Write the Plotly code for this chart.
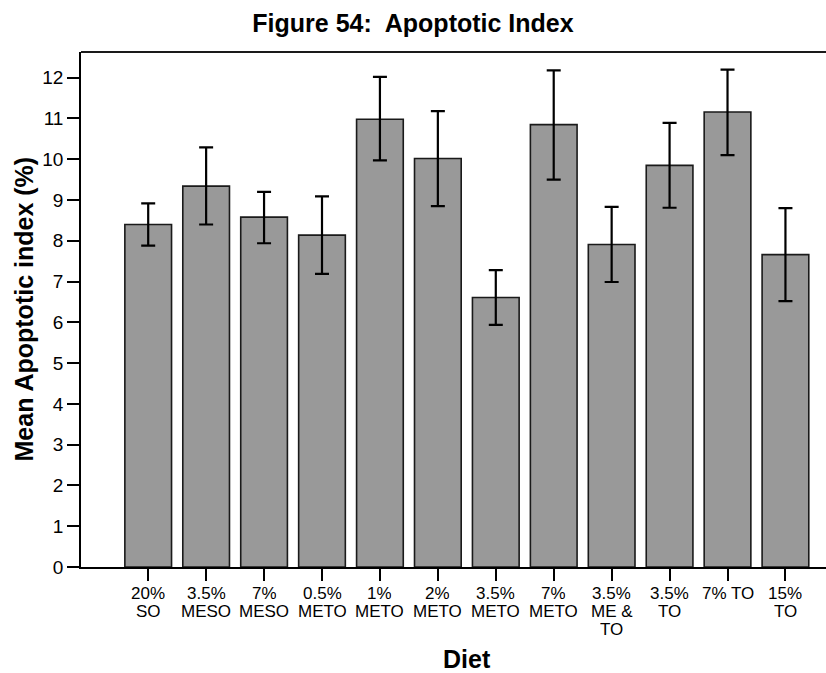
import plotly.graph_objects as go

categories = ["20%<br>SO", "3.5%<br>MESO", "7%<br>MESO", "0.5%<br>METO", "1%<br>METO",
              "2%<br>METO", "3.5%<br>METO", "7%<br>METO", "3.5%<br>ME &<br>TO",
              "3.5%<br>TO", "7% TO", "15%<br>TO"]
means = [8.40, 9.34, 8.58, 8.14, 10.98, 10.02, 6.61, 10.85, 7.91, 9.85, 11.16, 7.66]
err_plus = [0.52, 0.95, 0.62, 0.95, 1.04, 1.16, 0.67, 1.33, 0.92, 1.04, 1.04, 1.14]
err_minus = [0.52, 0.94, 0.64, 0.95, 1.01, 1.17, 0.67, 1.35, 0.92, 1.04, 1.06, 1.14]
y_ticks = list(range(0, 13))

FONT = "Liberation Sans, Arial, sans-serif"
PLOT_TOP, PLOT_BOTTOM = 52, 567
PLOT_H = PLOT_BOTTOM - PLOT_TOP
LINE_PX = 18

fig = go.Figure()
fig.add_trace(go.Bar(
    x=list(range(len(categories))), y=means,
    marker=dict(color="#999999", line=dict(color="#1a1a1a", width=1.6)),
    error_y=dict(type="data", symmetric=False, array=err_plus, arrayminus=err_minus,
                 color="black", thickness=2.2, width=7),
    showlegend=False,
))

annotations = []
for i, label in enumerate(categories):
    for j, line in enumerate(label.split("<br>")):
        ypix = 593 + LINE_PX * j
        annotations.append(dict(
            text=line, x=i, xref="x", yref="paper",
            y=(PLOT_BOTTOM - ypix) / PLOT_H, xanchor="center", yanchor="middle",
            showarrow=False, borderpad=0, height=16, valign="middle",
            font=dict(size=17, family=FONT, color="black")))

annotations += [
    dict(text="<b>Diet</b>", xref="paper", yref="paper",
         x=(467 - 81) / 745, y=(PLOT_BOTTOM - 659) / PLOT_H, xanchor="center", yanchor="middle",
         showarrow=False, font=dict(size=25, family=FONT)),
    dict(text="<b>Mean Apoptotic index (%)</b>", xref="paper", yref="paper",
         x=(23 - 81) / 745, y=0.5, xanchor="center", yanchor="middle",
         textangle=-90, showarrow=False, font=dict(size=25, family=FONT)),
]

fig.update_layout(
    width=826, height=673,
    margin=dict(l=81, r=0, t=PLOT_TOP, b=673 - PLOT_BOTTOM),
    plot_bgcolor="white", paper_bgcolor="white",
    bargap=0.194,
    font=dict(family=FONT, color="black", size=18),
    title=dict(text="<b>Figure 54:  Apoptotic Index</b>", x=0.5, xanchor="center",
               y=1 - 23 / 673, yanchor="middle", font=dict(size=25, family=FONT)),
    xaxis=dict(
        tickmode="array", tickvals=list(range(len(categories))), showticklabels=False,
        range=[-1.16, 11.70], showline=True, linecolor="black", linewidth=1.6,
        ticks="outside", ticklen=12, tickwidth=1.6, tickcolor="black",
        showgrid=False, zeroline=False,
    ),
    yaxis=dict(
        range=[0, 12.63], tickmode="array", tickvals=y_ticks,
        showline=True, linecolor="black", linewidth=1.6,
        ticks="outside", ticklen=12, tickwidth=1.6, tickcolor="black",
        showgrid=False, zeroline=False, tickfont=dict(size=19),
    ),
    shapes=[dict(type="line", xref="paper", yref="paper", x0=0, x1=1, y0=1, y1=1,
                 line=dict(color="#1a1a1a", width=2))],
    annotations=annotations,
)

fig.write_html("out.html")
